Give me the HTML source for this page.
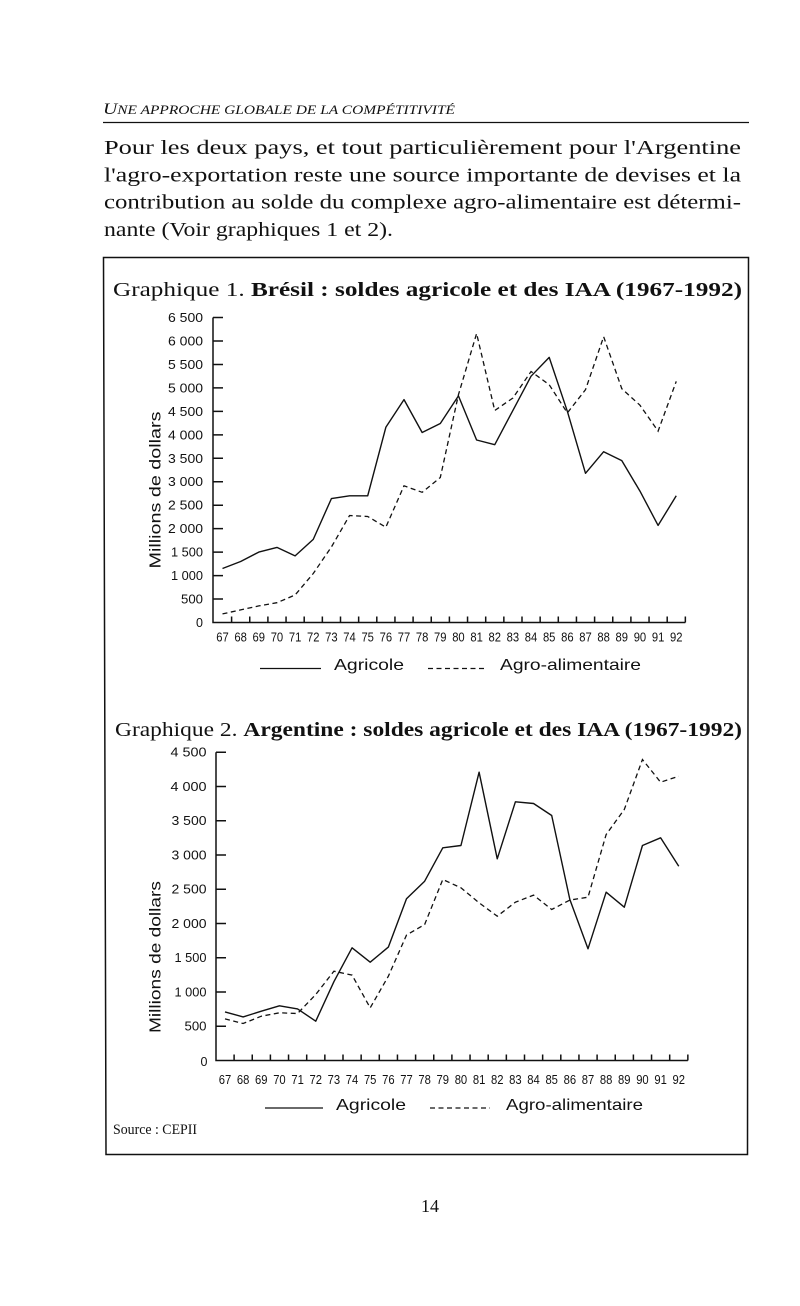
<!DOCTYPE html>
<html><head><meta charset="utf-8">
<style>
html,body{margin:0;padding:0;background:#fff;}
svg{display:block;}
.serif{font-family:"Liberation Serif",serif;fill:#111;}
.sans{font-family:"Liberation Sans",sans-serif;fill:#111;}
.yl{font-family:"Liberation Sans",sans-serif;font-size:12.5px;fill:#111;text-anchor:end;}
.xl{font-family:"Liberation Sans",sans-serif;font-size:13px;fill:#111;text-anchor:middle;}
.ln{fill:none;stroke:#111;stroke-width:1.4;stroke-linejoin:round;}
.ds{fill:none;stroke:#111;stroke-width:1.3;stroke-dasharray:5 3.5;}
.ax{fill:none;stroke:#111;stroke-width:1.5;}
</style></head>
<body>
<svg width="800" height="1306" viewBox="0 0 800 1306" xmlns="http://www.w3.org/2000/svg">
<rect width="800" height="1306" fill="#fff"/>

<!-- Header -->
<text class="serif" x="103" y="114" font-style="italic" textLength="352" lengthAdjust="spacingAndGlyphs"><tspan font-size="16">U</tspan><tspan font-size="12.5">NE APPROCHE GLOBALE DE LA COMPÉTITIVITÉ</tspan></text>
<line x1="103" y1="122.5" x2="749" y2="122.5" stroke="#111" stroke-width="1.3"/>

<!-- Paragraph -->
<text class="serif" font-size="20" x="104" y="154" textLength="637" lengthAdjust="spacingAndGlyphs">Pour les deux pays, et tout particulièrement pour l'Argentine</text>
<text class="serif" font-size="20" x="104" y="181.5" textLength="637" lengthAdjust="spacingAndGlyphs">l'agro-exportation reste une source importante de devises et la</text>
<text class="serif" font-size="20" x="104" y="208.5" textLength="637" lengthAdjust="spacingAndGlyphs">contribution au solde du complexe agro-alimentaire est détermi-</text>
<text class="serif" font-size="20" x="104" y="236" textLength="289" lengthAdjust="spacingAndGlyphs">nante (Voir graphiques 1 et 2).</text>

<!-- Frame -->
<polygon points="103.5,257.5 748.5,257.5 747.5,1154.5 106,1154.5" fill="none" stroke="#111" stroke-width="1.5"/>

<!-- ============ Chart 1 ============ -->
<text class="serif" font-size="20" x="113" y="296" textLength="629" lengthAdjust="spacingAndGlyphs">Graphique 1. <tspan font-weight="bold">Brésil : soldes agricole et des IAA (1967-1992)</tspan></text>

<text class="sans" font-size="16" transform="translate(160.5,490) rotate(-90)" text-anchor="middle" textLength="157" lengthAdjust="spacingAndGlyphs">Millions de dollars</text>

<path class="ax" d="M213 317.5 V622.5 H685.35"/>
<path class="ax" d="M213 317.52 H223 M213 340.98 H223 M213 364.44 H223 M213 387.9 H223 M213 411.36 H223 M213 434.82 H223 M213 458.28 H223 M213 481.74 H223 M213 505.2 H223 M213 528.66 H223 M213 552.12 H223 M213 575.58 H223 M213 599.04 H223"/>
<path class="ax" stroke-width="1.2" d="M231.6 622.5v-6 M249.75 622.5v-6 M267.9 622.5v-6 M286.05 622.5v-6 M304.2 622.5v-6 M322.35 622.5v-6 M340.5 622.5v-6 M358.65 622.5v-6 M376.8 622.5v-6 M394.95 622.5v-6 M413.1 622.5v-6 M431.25 622.5v-6 M449.4 622.5v-6 M467.55 622.5v-6 M485.7 622.5v-6 M503.85 622.5v-6 M522 622.5v-6 M540.15 622.5v-6 M558.3 622.5v-6 M576.45 622.5v-6 M594.6 622.5v-6 M612.75 622.5v-6 M630.9 622.5v-6 M649.05 622.5v-6 M667.2 622.5v-6 M685.35 622.5v-6"/>

<text class="yl" x="203" y="322" textLength="35" lengthAdjust="spacingAndGlyphs">6 500</text>
<text class="yl" x="203" y="345.5" textLength="35" lengthAdjust="spacingAndGlyphs">6 000</text>
<text class="yl" x="203" y="369" textLength="35" lengthAdjust="spacingAndGlyphs">5 500</text>
<text class="yl" x="203" y="392.4" textLength="35" lengthAdjust="spacingAndGlyphs">5 000</text>
<text class="yl" x="203" y="415.9" textLength="35" lengthAdjust="spacingAndGlyphs">4 500</text>
<text class="yl" x="203" y="439.3" textLength="35" lengthAdjust="spacingAndGlyphs">4 000</text>
<text class="yl" x="203" y="462.8" textLength="35" lengthAdjust="spacingAndGlyphs">3 500</text>
<text class="yl" x="203" y="486.2" textLength="35" lengthAdjust="spacingAndGlyphs">3 000</text>
<text class="yl" x="203" y="509.7" textLength="35" lengthAdjust="spacingAndGlyphs">2 500</text>
<text class="yl" x="203" y="533.2" textLength="35" lengthAdjust="spacingAndGlyphs">2 000</text>
<text class="yl" x="203" y="556.6" textLength="32" lengthAdjust="spacingAndGlyphs">1 500</text>
<text class="yl" x="203" y="580.1" textLength="32" lengthAdjust="spacingAndGlyphs">1 000</text>
<text class="yl" x="203" y="603.5" textLength="22" lengthAdjust="spacingAndGlyphs">500</text>
<text class="yl" x="203" y="627">0</text>

<g class="xl">
<text x="222.5" y="641.5" textLength="12.5" lengthAdjust="spacingAndGlyphs">67</text>
<text x="240.65" y="641.5" textLength="12.5" lengthAdjust="spacingAndGlyphs">68</text>
<text x="258.8" y="641.5" textLength="12.5" lengthAdjust="spacingAndGlyphs">69</text>
<text x="276.95" y="641.5" textLength="12.5" lengthAdjust="spacingAndGlyphs">70</text>
<text x="295.1" y="641.5" textLength="12.5" lengthAdjust="spacingAndGlyphs">71</text>
<text x="313.25" y="641.5" textLength="12.5" lengthAdjust="spacingAndGlyphs">72</text>
<text x="331.4" y="641.5" textLength="12.5" lengthAdjust="spacingAndGlyphs">73</text>
<text x="349.55" y="641.5" textLength="12.5" lengthAdjust="spacingAndGlyphs">74</text>
<text x="367.7" y="641.5" textLength="12.5" lengthAdjust="spacingAndGlyphs">75</text>
<text x="385.85" y="641.5" textLength="12.5" lengthAdjust="spacingAndGlyphs">76</text>
<text x="404" y="641.5" textLength="12.5" lengthAdjust="spacingAndGlyphs">77</text>
<text x="422.15" y="641.5" textLength="12.5" lengthAdjust="spacingAndGlyphs">78</text>
<text x="440.3" y="641.5" textLength="12.5" lengthAdjust="spacingAndGlyphs">79</text>
<text x="458.45" y="641.5" textLength="12.5" lengthAdjust="spacingAndGlyphs">80</text>
<text x="476.6" y="641.5" textLength="12.5" lengthAdjust="spacingAndGlyphs">81</text>
<text x="494.75" y="641.5" textLength="12.5" lengthAdjust="spacingAndGlyphs">82</text>
<text x="512.9" y="641.5" textLength="12.5" lengthAdjust="spacingAndGlyphs">83</text>
<text x="531.05" y="641.5" textLength="12.5" lengthAdjust="spacingAndGlyphs">84</text>
<text x="549.2" y="641.5" textLength="12.5" lengthAdjust="spacingAndGlyphs">85</text>
<text x="567.35" y="641.5" textLength="12.5" lengthAdjust="spacingAndGlyphs">86</text>
<text x="585.5" y="641.5" textLength="12.5" lengthAdjust="spacingAndGlyphs">87</text>
<text x="603.65" y="641.5" textLength="12.5" lengthAdjust="spacingAndGlyphs">88</text>
<text x="621.8" y="641.5" textLength="12.5" lengthAdjust="spacingAndGlyphs">89</text>
<text x="639.95" y="641.5" textLength="12.5" lengthAdjust="spacingAndGlyphs">90</text>
<text x="658.1" y="641.5" textLength="12.5" lengthAdjust="spacingAndGlyphs">91</text>
<text x="676.25" y="641.5" textLength="12.5" lengthAdjust="spacingAndGlyphs">92</text>
</g>

<polyline class="ln" points="222.5,568.5 240.65,561.5 258.8,552.1 276.95,547.4 295.1,555.9 313.25,539.4 331.4,498.6 349.55,495.8 367.7,495.8 385.85,427.3 404,399.6 422.15,432.5 440.3,423.5 458.45,395.9 476.6,440 494.75,444.7 512.9,410.4 531.05,376.2 549.2,357.4 567.35,411.3 585.5,473.3 603.65,451.7 621.8,460.6 639.95,491.1 658.1,525.4 676.25,495.8"/>
<polyline class="ds" points="222.5,613.9 240.65,609.9 258.8,605.9 276.95,602.7 295.1,595 313.25,573.5 331.4,547 349.55,515.5 367.7,516.5 385.85,527.2 404,485.8 422.15,492.3 440.3,477.5 458.45,394.7 476.6,333.5 494.75,410.5 512.9,398 531.05,371.5 549.2,384.7 567.35,412.9 585.5,389.7 603.65,336.7 621.8,388.7 639.95,405.2 658.1,431.1 676.25,381.4"/>

<line x1="260" y1="668.5" x2="321" y2="668.5" stroke="#111" stroke-width="1.3"/>
<text class="sans" font-size="16" x="334" y="670" textLength="70" lengthAdjust="spacingAndGlyphs">Agricole</text>
<line x1="428" y1="668.5" x2="486" y2="668.5" stroke="#111" stroke-width="1.2" stroke-dasharray="5 3.5"/>
<text class="sans" font-size="16" x="500" y="670" textLength="141" lengthAdjust="spacingAndGlyphs">Agro-alimentaire</text>

<!-- ============ Chart 2 ============ -->
<text class="serif" font-size="20" x="115" y="736" textLength="627" lengthAdjust="spacingAndGlyphs">Graphique 2. <tspan font-weight="bold">Argentine : soldes agricole et des IAA (1967-1992)</tspan></text>

<text class="sans" font-size="16" transform="translate(160.5,957) rotate(-90)" text-anchor="middle" textLength="152" lengthAdjust="spacingAndGlyphs">Millions de dollars</text>

<path class="ax" d="M216 752.3 V1060.5 H687.85"/>
<path class="ax" d="M216 752.25 H226 M216 786.5 H226 M216 820.75 H226 M216 855 H226 M216 889.25 H226 M216 923.5 H226 M216 957.75 H226 M216 992 H226 M216 1026.25 H226"/>
<path class="ax" stroke-width="1.2" d="M234.1 1060.5v-6 M252.25 1060.5v-6 M270.4 1060.5v-6 M288.55 1060.5v-6 M306.7 1060.5v-6 M324.85 1060.5v-6 M343 1060.5v-6 M361.15 1060.5v-6 M379.3 1060.5v-6 M397.45 1060.5v-6 M415.6 1060.5v-6 M433.75 1060.5v-6 M451.9 1060.5v-6 M470.05 1060.5v-6 M488.2 1060.5v-6 M506.35 1060.5v-6 M524.5 1060.5v-6 M542.65 1060.5v-6 M560.8 1060.5v-6 M578.95 1060.5v-6 M597.1 1060.5v-6 M615.25 1060.5v-6 M633.4 1060.5v-6 M651.55 1060.5v-6 M669.7 1060.5v-6 M687.85 1060.5v-6"/>

<text class="yl" x="206.5" y="756.7" textLength="36" lengthAdjust="spacingAndGlyphs">4 500</text>
<text class="yl" x="206.5" y="791" textLength="36" lengthAdjust="spacingAndGlyphs">4 000</text>
<text class="yl" x="206.5" y="825.2" textLength="35" lengthAdjust="spacingAndGlyphs">3 500</text>
<text class="yl" x="206.5" y="859.5" textLength="35" lengthAdjust="spacingAndGlyphs">3 000</text>
<text class="yl" x="206.5" y="893.7" textLength="35" lengthAdjust="spacingAndGlyphs">2 500</text>
<text class="yl" x="206.5" y="928" textLength="35" lengthAdjust="spacingAndGlyphs">2 000</text>
<text class="yl" x="206.5" y="962.2" textLength="32" lengthAdjust="spacingAndGlyphs">1 500</text>
<text class="yl" x="206.5" y="996.5" textLength="32" lengthAdjust="spacingAndGlyphs">1 000</text>
<text class="yl" x="206.5" y="1030.7" textLength="22" lengthAdjust="spacingAndGlyphs">500</text>
<text class="yl" x="207.5" y="1066">0</text>

<g class="xl">
<text x="225" y="1084" textLength="12.5" lengthAdjust="spacingAndGlyphs">67</text>
<text x="243.15" y="1084" textLength="12.5" lengthAdjust="spacingAndGlyphs">68</text>
<text x="261.3" y="1084" textLength="12.5" lengthAdjust="spacingAndGlyphs">69</text>
<text x="279.45" y="1084" textLength="12.5" lengthAdjust="spacingAndGlyphs">70</text>
<text x="297.6" y="1084" textLength="12.5" lengthAdjust="spacingAndGlyphs">71</text>
<text x="315.75" y="1084" textLength="12.5" lengthAdjust="spacingAndGlyphs">72</text>
<text x="333.9" y="1084" textLength="12.5" lengthAdjust="spacingAndGlyphs">73</text>
<text x="352.05" y="1084" textLength="12.5" lengthAdjust="spacingAndGlyphs">74</text>
<text x="370.2" y="1084" textLength="12.5" lengthAdjust="spacingAndGlyphs">75</text>
<text x="388.35" y="1084" textLength="12.5" lengthAdjust="spacingAndGlyphs">76</text>
<text x="406.5" y="1084" textLength="12.5" lengthAdjust="spacingAndGlyphs">77</text>
<text x="424.65" y="1084" textLength="12.5" lengthAdjust="spacingAndGlyphs">78</text>
<text x="442.8" y="1084" textLength="12.5" lengthAdjust="spacingAndGlyphs">79</text>
<text x="460.95" y="1084" textLength="12.5" lengthAdjust="spacingAndGlyphs">80</text>
<text x="479.1" y="1084" textLength="12.5" lengthAdjust="spacingAndGlyphs">81</text>
<text x="497.25" y="1084" textLength="12.5" lengthAdjust="spacingAndGlyphs">82</text>
<text x="515.4" y="1084" textLength="12.5" lengthAdjust="spacingAndGlyphs">83</text>
<text x="533.55" y="1084" textLength="12.5" lengthAdjust="spacingAndGlyphs">84</text>
<text x="551.7" y="1084" textLength="12.5" lengthAdjust="spacingAndGlyphs">85</text>
<text x="569.85" y="1084" textLength="12.5" lengthAdjust="spacingAndGlyphs">86</text>
<text x="588" y="1084" textLength="12.5" lengthAdjust="spacingAndGlyphs">87</text>
<text x="606.15" y="1084" textLength="12.5" lengthAdjust="spacingAndGlyphs">88</text>
<text x="624.3" y="1084" textLength="12.5" lengthAdjust="spacingAndGlyphs">89</text>
<text x="642.45" y="1084" textLength="12.5" lengthAdjust="spacingAndGlyphs">90</text>
<text x="660.6" y="1084" textLength="12.5" lengthAdjust="spacingAndGlyphs">91</text>
<text x="678.75" y="1084" textLength="12.5" lengthAdjust="spacingAndGlyphs">92</text>
</g>

<polyline class="ln" points="225,1011.9 243.15,1016.9 261.3,1011.2 279.45,1005.8 297.6,1008.9 315.75,1021.2 333.9,981.7 352.05,947.8 370.2,962.2 388.35,947.1 406.5,898.8 424.65,881.2 442.8,847.8 460.95,845.5 479.1,772.2 497.25,858.8 515.4,801.8 533.55,803.5 551.7,815.5 569.85,899.5 588,948.8 606.15,892.2 624.3,907.2 642.45,845.5 660.6,837.8 678.75,866.2"/>
<polyline class="ds" points="225,1018.9 243.15,1023.5 261.3,1016.2 279.45,1012.8 297.6,1013.5 315.75,994.5 333.9,971.2 352.05,975.1 370.2,1007.8 388.35,976.2 406.5,935.1 424.65,924.5 442.8,879.5 460.95,887.8 479.1,902.8 497.25,916.2 515.4,902.2 533.55,895.1 551.7,909.5 569.85,900.1 588,897.2 606.15,834.5 624.3,809.5 642.45,759.5 660.6,782.2 678.75,776.2"/>

<line x1="265" y1="1108" x2="323" y2="1108" stroke="#111" stroke-width="1.3"/>
<text class="sans" font-size="16" x="336" y="1110" textLength="70" lengthAdjust="spacingAndGlyphs">Agricole</text>
<line x1="430" y1="1108" x2="490" y2="1108" stroke="#111" stroke-width="1.2" stroke-dasharray="5 3.5"/>
<text class="sans" font-size="16" x="506" y="1110" textLength="137" lengthAdjust="spacingAndGlyphs">Agro-alimentaire</text>

<text class="serif" font-size="15" x="113" y="1134" textLength="84" lengthAdjust="spacingAndGlyphs">Source : CEPII</text>

<text class="serif" font-size="18" x="421" y="1212" textLength="18" lengthAdjust="spacingAndGlyphs">14</text>
</svg>
</body></html>
